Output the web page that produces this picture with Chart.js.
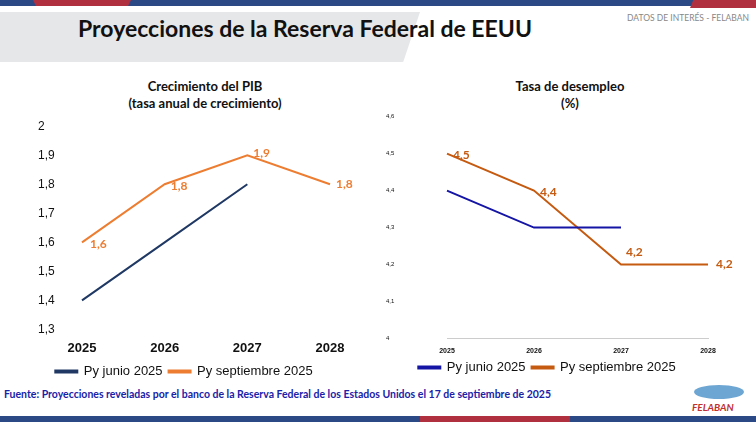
<!DOCTYPE html>
<html><head><meta charset="utf-8">
<script src="https://cdn.jsdelivr.net/npm/chart.js@4"></script>
<style>
body{margin:0;width:756px;height:422px;position:relative;overflow:hidden;background:#fff;font-family:Lato,"Open Sans",sans-serif}
.abs{position:absolute}
#banner{left:0;top:12px;width:420px;height:50px;background:#e6e7e9;clip-path:polygon(0 0,100% 0,96% 100%,0 100%)}
#title{left:0;width:610px;top:14px;text-align:center;font-size:23px;font-weight:bold;color:#111}
.ct{text-align:center;font-size:13px;font-weight:bold;color:#111;line-height:17px}
</style></head><body>
<div class="abs" style="left:0;top:0;width:756px;height:6px;background:#2b4a85"></div>
<div class="abs" style="left:33px;top:0;width:98px;height:6px;background:#b03040;clip-path:polygon(0 0,100% 0,97% 100%,3% 100%)"></div>
<div class="abs" style="left:690px;top:0;width:66px;height:8px;background:#b03040;clip-path:polygon(5% 0,100% 0,100% 100%,0 100%)"></div>
<div class="abs" id="banner"></div>
<div class="abs" id="title">Proyecciones de la Reserva Federal de EEUU</div>
<div class="abs" style="left:627px;top:13px;font-size:8.5px;color:#888">DATOS DE INTERÉS - FELABAN</div>
<div class="abs ct" style="left:100px;width:210px;top:78px">Crecimiento del PIB<br>(tasa anual de crecimiento)</div>
<div class="abs ct" style="left:470px;width:200px;top:78px">Tasa de desempleo<br>(%)</div>
<div class="abs" style="left:20px;top:116px;width:350px;height:272px"><canvas id="c1"></canvas></div>
<div class="abs" style="left:380px;top:110px;width:370px;height:274px"><canvas id="c2"></canvas></div>
<div class="abs" style="left:4px;top:388px;font-size:10.5px;font-weight:bold;color:#1a22a8">Fuente: Proyecciones reveladas por el banco de la Reserva Federal de los Estados Unidos el 17 de septiembre de 2025</div>
<div class="abs" style="left:694px;top:385px;width:50px;height:14px;border-radius:50%;background:#4a90c8;opacity:.8"></div>
<div class="abs" style="left:692px;top:401px;font-size:10px;font-weight:bold;font-style:italic;color:#c0302f">FELABAN</div>
<div class="abs" style="left:0;top:416px;width:756px;height:6px;background:#2b4a85"></div>
<div class="abs" style="left:420px;top:416px;width:150px;height:6px;background:#b03040"></div>
<script>
const years = ["2025", "2026", "2027", "2028"];
const pibJunio = [1.4, 1.6, 1.8, null];
const pibSept = [1.6, 1.8, 1.9, 1.8];
const desJunio = [4.4, 4.3, 4.3, null];
const desSept = [4.5, 4.4, 4.2, 4.2];

const labelPlugin = {
  id: "vals",
  afterDatasetsDraw(chart, args, opts) {
    const ctx = chart.ctx;
    const ds = chart.data.datasets[1];
    const meta = chart.getDatasetMeta(1);
    ctx.save();
    ctx.font = "bold " + opts.size + "px Lato";
    ctx.fillStyle = ds.borderColor;
    ctx.textBaseline = "middle";
    meta.data.forEach((p, i) => {
      const o = opts.offsets[i];
      ctx.fillText(ds.data[i].toFixed(1).replace(".", ","), p.x + o[0], p.y + o[1]);
    });
    ctx.restore();
  }
};
Chart.register(labelPlugin);

function make(id, a, b, cols, yopts, xfont, xpad, lblopts, showAxis, pad, yWidth) {
  new Chart(document.getElementById(id), {
    type: "line",
    data: {
      labels: years,
      datasets: [
        { label: "Py junio 2025", data: a, borderColor: cols[0], backgroundColor: cols[0], borderWidth: 2, pointRadius: 0, tension: 0 },
        { label: "Py septiembre 2025", data: b, borderColor: cols[1], backgroundColor: cols[1], borderWidth: 2, pointRadius: 0, tension: 0 },
      ],
    },
    options: {
      responsive: true, maintainAspectRatio: false, animation: false,
      layout: { padding: pad },
      plugins: {
        legend: { position: "bottom", labels: { padding: 6, boxWidth: 22, boxHeight: 2, color: "#111", font: { size: 13 } } },
        vals: lblopts,
        tooltip: { enabled: false },
      },
      scales: {
        x: { grid: { display: false }, border: { display: showAxis, color: "#ccc" }, ticks: { padding: xpad, maxRotation: 0, color: "#111", font: { size: xfont, weight: "bold" } } },
        y: Object.assign({ grid: { display: false }, border: { display: false }, afterFit: (s) => { s.width = yWidth; } }, yopts),
      },
    },
  });
}

const fmt = (v) => String(+v.toFixed(1)).replace(".", ",");

make("c1", pibJunio, pibSept, ["#1f3864", "#ed7d31"],
  { min: 1.3, max: 2, ticks: { stepSize: 0.1, crossAlign: "far", color: "#111", font: { size: 12 }, callback: fmt } },
  13, 3, { size: 12, offsets: [[8, 2], [6, 2], [6, -2], [6, 0]] }, false, { left: 18, right: 40, top: 4 }, 44);

make("c2", desJunio, desSept, ["#1515a5", "#c55a11"],
  { min: 4, max: 4.6, ticks: { stepSize: 0.1, crossAlign: "far", color: "#111", font: { size: 6 }, callback: fmt } },
  7, 0, { size: 12, offsets: [[6, 2], [6, 2], [5, -12], [8, 0]] }, true, { left: 6, right: 42, top: 4 }, 61);
</script>
</body></html>
